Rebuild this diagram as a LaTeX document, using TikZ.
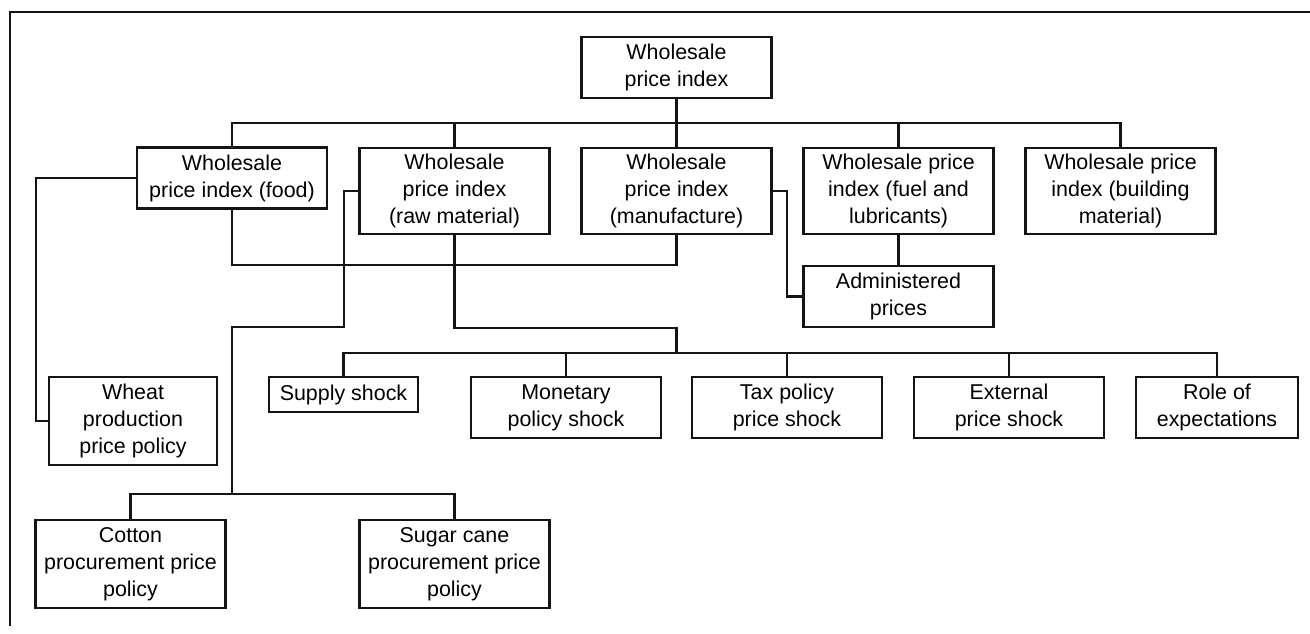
\documentclass[tikz,border=0pt]{standalone}
\usepackage{fontspec}
\setmainfont{Liberation Sans}
\definecolor{lineBlack}{RGB}{20,20,20}

\begin{document}
\begin{tikzpicture}[
  x=0.02cm, y=-0.02cm,
  box/.style={draw=lineBlack, line width=1.3pt, fill=white, align=center, inner sep=1pt,
    font=\fontsize{12.2}{15.4}\selectfont, minimum width=3.8cm, minimum height=1.72cm},
  short/.style={box, minimum height=1.22cm},
  link/.style={draw=lineBlack, line width=1.3pt, line cap=rect}
]
\useasboundingbox (0,0) rectangle (1310,634);

% The open frame round the chart.
\draw[link] (1310,12) -- (10,12) -- (10,625);

% Index and its five components.
\node[short] (root) at (676.5,67.5) {Wholesale\\price index};
\node[short] (food) at (232,178) {Wholesale\\price index (food)};
\node[box] (raw) at (454.5,191) {Wholesale\\price index\\(raw material)};
\node[box] (manuf) at (676.5,191) {Wholesale\\price index\\(manufacture)};
\node[box] (fuel) at (898.5,191) {Wholesale price\\index (fuel and\\lubricants)};
\node[box] (build) at (1120.5,191) {Wholesale price\\index (building\\material)};
\node[short] (admin) at (898.5,296.5) {Administered\\prices};

% Shocks and price policies.
\node[box, minimum width=3.36cm, minimum height=1.76cm] (wheat) at (133,421) {Wheat\\production\\price policy};
\node[box, minimum width=2.98cm, minimum height=0.7cm] (supply) at (343.5,394.5) {Supply shock};
\node[short] (monetary) at (566,407.5) {Monetary\\policy shock};
\node[short] (tax) at (787,407.5) {Tax policy\\price shock};
\node[short] (external) at (1009,407.5) {External\\price shock};
\node[short, minimum width=3.24cm] (role) at (1217,407.5) {Role of\\expectations};
\node[box, minimum height=1.76cm] (cotton) at (130.5,564) {Cotton\\procurement price\\policy};
\node[box, minimum height=1.76cm] (sugar) at (454.5,564) {Sugar cane\\procurement price\\policy};

% Junction points of the buses.
\coordinate (topbus) at (676.5,123);
\coordinate (shockbus) at (676.5,353);
\coordinate (cropbus) at (232,494);
\coordinate (wheatline) at (36,300);
\coordinate (rawline) at (344,327);
\coordinate (adminline) at (787,300);

% Connectors.
\draw[link] (root.south) -- (topbus);
\foreach \n in {food,raw,manuf,fuel,build}
  \draw[link] (\n.north) |- (topbus);
\draw[link] (fuel) -- (admin);
\draw[link] (food.south) |- (manuf.south |- admin.north) -- (manuf.south);
\draw[link] (manuf.east) -| (adminline |- admin.west) -- (admin.west);
\draw[link] (raw.south) |- (shockbus |- admin.south) -- (shockbus);
\foreach \n in {supply,monetary,tax,external,role}
  \draw[link] (\n.north) |- (shockbus);
\draw[link] (food.west) -| (wheatline |- wheat.west) -- (wheat.west);
\draw[link] (raw.west) -| (rawline) -| (cropbus);
\foreach \n in {cotton,sugar}
  \draw[link] (\n.north) |- (cropbus);

\end{tikzpicture}
\end{document}
